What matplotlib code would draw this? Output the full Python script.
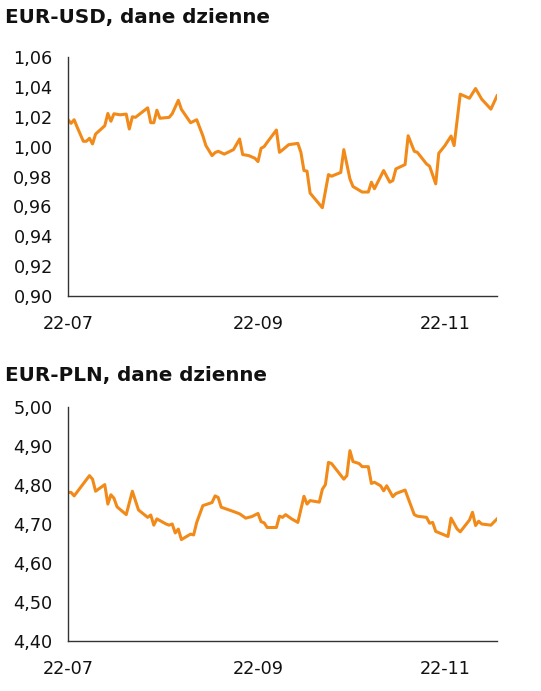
import numpy as np
import pandas as pd
import matplotlib
matplotlib.use("Agg")
from matplotlib import pyplot as plt
import matplotlib.dates as mdates

start = pd.Timestamp("2022-07-01")

# EUR-USD, days since 2022-07-01 and rate
usd_day = [0, 1, 2, 3, 5, 6, 7, 8, 9, 12, 13, 14, 15, 17, 19, 20, 21, 22, 26, 27,
           28, 29, 30, 33, 34, 36, 37, 40, 42, 44, 45, 47, 48, 49, 51, 54, 56, 57,
           59, 61, 62, 63, 64, 65, 68, 69, 70, 72, 75, 76, 77, 78, 79, 83, 85, 86,
           89, 90, 92, 93, 96, 98, 99, 100, 103, 105, 106, 107, 110, 111, 113, 114,
           117, 118, 120, 121, 123, 125, 126, 128, 131, 133, 135, 138, 140]
usd_val = [1.018, 1.0156, 1.018, 1.013, 1.0036, 1.0036, 1.0056, 1.0018, 1.0084,
           1.014, 1.0222, 1.017, 1.022, 1.0213, 1.0218, 1.0118, 1.020, 1.0196,
           1.026, 1.016, 1.016, 1.0244, 1.019, 1.0196, 1.022, 1.031, 1.025, 1.016,
           1.018, 1.0073, 1.0007, 0.994, 0.996, 0.9969, 0.995, 0.998, 1.0051,
           0.9947, 0.994, 0.9922, 0.990, 0.9989, 1.000, 1.0029, 1.0111, 0.9962,
           0.9978, 1.0013, 1.0022, 0.9962, 0.984, 0.9836, 0.9689, 0.9591, 0.9813,
           0.9802, 0.9827, 0.998, 0.9784, 0.9733, 0.9696, 0.9696, 0.9762, 0.9718,
           0.984, 0.9762, 0.9773, 0.9851, 0.988, 1.0073, 0.9969, 0.9962, 0.9884,
           0.9869, 0.9751, 0.9956, 1.0007, 1.0071, 1.0007, 1.0351, 1.0324, 1.0389,
           1.0318, 1.0251, 1.034]

# EUR-PLN
pln_day = [0, 1, 2, 7, 8, 9, 12, 13, 14, 15, 16, 19, 21, 23, 26, 27, 28, 29, 32,
           33, 34, 35, 36, 37, 40, 41, 42, 44, 47, 48, 49, 50, 54, 56, 58, 60, 62,
           63, 64, 65, 68, 69, 70, 71, 73, 75, 77, 78, 79, 82, 83, 84, 85, 86, 90,
           91, 92, 93, 95, 96, 98, 99, 100, 102, 103, 104, 106, 107, 110, 113, 114,
           117, 118, 119, 120, 124, 125, 127, 128, 131, 132, 133, 134, 135, 138, 140]
pln_val = [4.781, 4.781, 4.772, 4.824, 4.815, 4.784, 4.801, 4.751, 4.775, 4.766,
           4.744, 4.724, 4.784, 4.736, 4.717, 4.723, 4.697, 4.713, 4.700, 4.697,
           4.700, 4.677, 4.687, 4.660, 4.674, 4.672, 4.704, 4.747, 4.755, 4.772,
           4.768, 4.743, 4.732, 4.726, 4.715, 4.719, 4.727, 4.706, 4.703, 4.691,
           4.691, 4.720, 4.717, 4.724, 4.713, 4.704, 4.771, 4.751, 4.760, 4.756,
           4.789, 4.801, 4.858, 4.855, 4.815, 4.824, 4.888, 4.860, 4.855, 4.847,
           4.847, 4.804, 4.807, 4.798, 4.785, 4.798, 4.770, 4.778, 4.787, 4.724,
           4.720, 4.717, 4.702, 4.704, 4.681, 4.668, 4.715, 4.687, 4.680, 4.710,
           4.730, 4.696, 4.707, 4.700, 4.697, 4.713]

tick_dates = ["2022-07-01", "2022-09-01", "2022-11-01"]
orange = "#F28A1A"

fig = plt.figure(figsize=(5.41, 6.91), dpi=100)


def panel(rect, days, vals, ylim, yticks, ydec, title, title_y):
    ax = fig.add_axes(rect)
    dates = start + pd.to_timedelta(days, unit="D")
    ax.plot(dates, vals, color=orange, lw=2.2, solid_joinstyle="round")
    ax.set_xlim(dates[0], dates[-1])
    ax.set_ylim(*ylim)
    ax.set_yticks(yticks)
    ax.set_yticklabels([f"{v:.{ydec}f}".replace(".", ",") for v in yticks])
    ax.set_xticks(pd.to_datetime(tick_dates))
    ax.xaxis.set_major_formatter(mdates.DateFormatter("%y-%m"))
    for s in ["top", "right"]:
        ax.spines[s].set_visible(False)
    for s in ["left", "bottom"]:
        ax.spines[s].set_color("#333333")
        ax.spines[s].set_linewidth(1.0)
    ax.tick_params(axis="y", length=0, pad=11, labelsize=12.7, labelcolor="#111111")
    ax.tick_params(axis="x", length=0, pad=14, labelsize=12.7, labelcolor="#111111")
    fig.text(0.009, title_y, title, fontsize=14.3, fontweight="bold",
             va="center", ha="left", color="#111111")
    return ax


panel([0.1257, 0.5716, 0.793, 0.3459], usd_day, usd_val, (0.90, 1.06),
      np.round(np.arange(0.90, 1.061, 0.02), 2), 2,
      "EUR-USD, dane dzienne", 1 - 18 / 691)
panel([0.1257, 0.0724, 0.793, 0.3386], pln_day, pln_val, (4.40, 5.00),
      np.round(np.arange(4.40, 5.001, 0.10), 2), 2,
      "EUR-PLN, dane dzienne", 1 - 375 / 691)

plt.savefig("out.png", dpi=100)
